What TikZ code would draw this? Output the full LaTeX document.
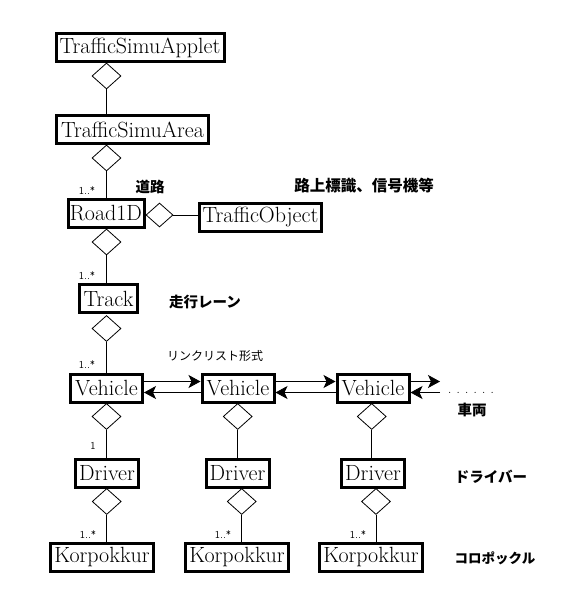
\documentclass[tikz,border=0pt]{standalone}
\usepackage{fontspec}
\usepackage{tikz}
\usetikzlibrary{arrows.meta,shapes.geometric}
\newfontfamily\jp{Noto Sans CJK JP}
\tikzset{
	cls/.style={draw, line width=3pt, inner xsep=1pt, inner ysep=0pt, minimum height=28pt, font=\fontsize{22}{22}\selectfont},
	agg/.style={draw, diamond, line width=0.8pt, inner sep=0pt, minimum width=29pt, minimum height=26pt},
	mult/.style={font=\sffamily\fontsize{10.5}{10.5}\selectfont},
	jlab/.style={font=\jp\bfseries\fontsize{14.5}{14.5}\selectfont},
	link/.style={line width=0.8pt},
	nav/.style={line width=0.8pt, -{Stealth[length=12pt,width=13pt,inset=3pt]}}
}

\begin{document}
\begin{tikzpicture}[x=1pt, y=-1pt]
		%%%%% START %%%%%
		\useasboundingbox (0,0) rectangle (582,612);
		
		% classes
		\node[cls, minimum width=168pt] (applet) at (140,48) {TrafficSimuApplet};
		\node[cls, minimum width=152pt] (area) at (132.5,129.5) {TrafficSimuArea};
		\node[cls, minimum width=76pt] (road) at (106,213.5) {Road1D};
		\node[cls, minimum width=122pt] (tobj) at (260.5,217.5) {TrafficObject};
		\node[cls, minimum width=58pt] (track) at (108.5,298.5) {Track};
		\node[cls, minimum width=72pt] (veh1) at (106.5,388.5) {Vehicle};
		\node[cls, minimum width=72pt] (veh2) at (238,388.5) {Vehicle};
		\node[cls, minimum width=72pt] (veh3) at (373,388.5) {Vehicle};
		\node[cls, minimum width=63pt] (drv1) at (107,473.5) {Driver};
		\node[cls, minimum width=63pt] (drv2) at (237.5,473.5) {Driver};
		\node[cls, minimum width=63pt] (drv3) at (373,473.5) {Driver};
		\node[cls, minimum width=103pt] (korp1) at (102,557.5) {Korpokkur};
		\node[cls, minimum width=103pt] (korp2) at (237,557.5) {Korpokkur};
		\node[cls, minimum width=103pt] (korp3) at (371,557.5) {Korpokkur};
		
		% aggregation diamonds
		\node[agg] (dApplet) at (106.5,76) {};
		\node[agg] (dArea) at (106.5,158) {};
		\node[agg] (dRoad) at (106.5,242) {};
		\node[agg, minimum width=27pt, minimum height=24pt] (dRoadSide) at (159.5,215) {};
		\node[agg] (dTrack) at (106.5,328.5) {};
		\node[agg] (dVeh1) at (106.5,416.5) {};
		\node[agg] (dVeh2) at (237.7,416.5) {};
		\node[agg] (dVeh3) at (371.7,416.5) {};
		\node[agg] (dDrv1) at (106.7,501.5) {};
		\node[agg] (dDrv2) at (241.7,501.5) {};
		\node[agg] (dDrv3) at (376,501.5) {};
		
		\draw[link] (dApplet.south) -- (dApplet.south |- area.north);
		\draw[link] (dArea.south) -- (dArea.south |- road.north);
		\draw[link] (dRoad.south) -- (dRoad.south |- track.north);
		\draw[link] (dRoadSide.east) -- (dRoadSide.east -| tobj.west);
		\draw[link] (dTrack.south) -- (dTrack.south |- veh1.north);
		\draw[link] (dVeh1.south) -- (dVeh1.south |- drv1.north);
		\draw[link] (dVeh2.south) -- (dVeh2.south |- drv2.north);
		\draw[link] (dVeh3.south) -- (dVeh3.south |- drv3.north);
		\draw[link] (dDrv1.south) -- (dDrv1.south |- korp1.north);
		\draw[link] (dDrv2.south) -- (dDrv2.south |- korp2.north);
		\draw[link] (dDrv3.south) -- (dDrv3.south |- korp3.north);
		
		% linked list
		\coordinate (vend) at (440,388.5);
		\draw[nav] ([yshift=7pt]veh1.east) -- ([yshift=7pt]veh2.west);
		\draw[nav] ([yshift=-4pt]veh2.west) -- ([yshift=-4pt]veh1.east);
		\draw[nav] ([yshift=7pt]veh2.east) -- ([yshift=7pt]veh3.west);
		\draw[nav] ([yshift=-4pt]veh3.west) -- ([yshift=-4pt]veh2.east);
		\draw[nav] ([yshift=7pt]veh3.east) -- ([yshift=7pt]vend);
		\draw[nav] ([yshift=-4pt]vend) -- ([yshift=-4pt]veh3.east);
		\node[font=\fontsize{12}{12}\selectfont] (more) at (471,393) {. . . . . .};
		
		% multiplicities
		\node[mult] (mRoad) at (87,191) {1..*};
		\node[mult] (mTrack) at (87,276) {1..*};
		\node[mult] (mVeh) at (87,365) {1..*};
		\node[mult] (mDrv) at (93,446) {1};
		\node[mult] (mKorp1) at (88,535) {1..*};
		\node[mult] (mKorp2) at (223,535) {1..*};
		\node[mult] (mKorp3) at (358,535) {1..*};
		
		% notes
		\node[jlab] (nRoad) at (150,187) {道路};
		\node[jlab, font=\jp\bfseries\fontsize{15.5}{15.5}\selectfont] (nObj) at (364,186) {路上標識、信号機等};
		\node[jlab] (nTrack) at (205,302) {走行レーン};
		\node[jlab, font=\jp\fontsize{12}{12}\selectfont] (nList) at (215,356) {リンクリスト形式};
		\node[jlab] (nVeh) at (472,410) {車両};
		\node[jlab] (nDrv) at (491,477) {ドライバー};
		\node[jlab, font=\jp\bfseries\fontsize{13.5}{13.5}\selectfont] (nKorp) at (495,558) {コロポックル};
		
		%%%%% END %%%%%
\end{tikzpicture}
\end{document}
